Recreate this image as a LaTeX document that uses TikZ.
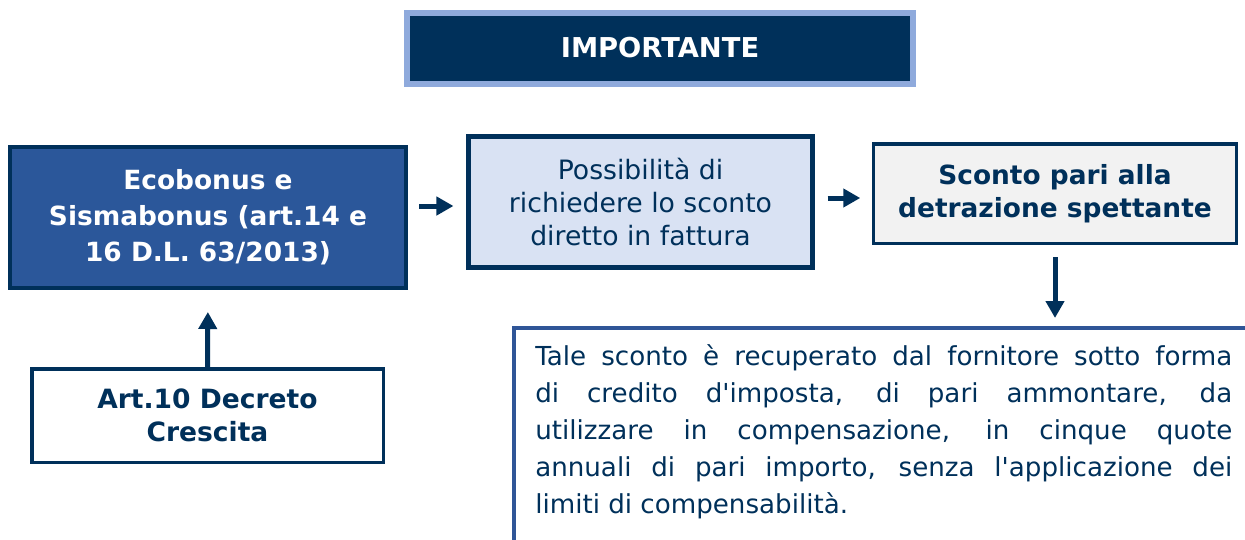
\documentclass[tikz,border=0pt]{standalone}
\usepackage{fontspec}
\setmainfont{DejaVu Sans}[Ligatures=TeXOff]
\usepackage{tikz}
\usetikzlibrary{shapes,arrows.meta}

\definecolor{blunotte}{RGB}{0,48,90}
\definecolor{bluscuro}{RGB}{43,87,154}
\definecolor{bordoblu}{RGB}{47,85,151}
\definecolor{azzurro}{RGB}{143,170,220}
\definecolor{celeste}{RGB}{217,226,243}
\definecolor{grigino}{RGB}{242,242,242}

\begin{document}
\begin{tikzpicture}[x=0.75pt,y=-0.75pt]
	\clip (0,0) rectangle (1245,539);

	\tikzstyle{titolo}=[rectangle,draw=azzurro,line width=4.5pt,fill=blunotte,
	text=white,font=\bfseries\fontsize{20.5}{24}\selectfont,
	minimum width=379.5pt,minimum height=53.25pt]
	\tikzstyle{bloccoblu}=[rectangle,draw=blunotte,line width=3pt,fill=bluscuro,
	text=white,font=\bfseries\fontsize{19.8}{27}\selectfont,align=center,
	minimum width=297pt,minimum height=105.75pt]
	\tikzstyle{bloccochiaro}=[rectangle,draw=blunotte,line width=3.75pt,fill=celeste,
	text=blunotte,font=\fontsize{20}{24.75}\selectfont,align=center,
	minimum width=258pt,minimum height=98.25pt]
	\tikzstyle{bloccogrigio}=[rectangle,draw=blunotte,line width=2.6pt,fill=grigino,
	text=blunotte,font=\bfseries\fontsize{19.8}{24.75}\selectfont,align=center,
	minimum width=271.9pt,minimum height=74.6pt]
	\tikzstyle{bloccobianco}=[rectangle,draw=blunotte,line width=2.6pt,fill=white,
	text=blunotte,font=\bfseries\fontsize{19.9}{24.75}\selectfont,align=center,
	minimum width=263.6pt,minimum height=70.1pt]
	\tikzstyle{cornice}=[rectangle,draw=bordoblu,line width=3pt,
	minimum width=600pt,minimum height=225pt]
	\tikzstyle{testo}=[text=blunotte,font=\fontsize{19.6}{27.8}\selectfont,
	text width=522.75pt,align=justify,inner sep=0pt]

	\node[titolo] (imp) at (660,48) {IMPORTANTE};
	\node[bloccoblu] (eco) at (208,217.5) {Ecobonus e\\Sismabonus (art.14 e\\16 D.L. 63/2013)};
	\node[bloccochiaro] (poss) at (640.5,202) {Possibilità di\\richiedere lo sconto\\diretto in fattura};
	\node[bloccogrigio] (sconto) at (1055,193.5) {Sconto pari alla\\detrazione spettante};
	\node[bloccobianco] (art) at (207.5,415.5) {Art.10 Decreto\\Crescita};
	\node[cornice,anchor=north west] (box) at (512,326) {};
	\node[testo,anchor=north west] (tale) at (535,344) {\hyphenpenalty=10000
	Tale sconto è recuperato dal fornitore sotto forma\linebreak
	di credito d'imposta, di pari ammontare, da\linebreak
	utilizzare in compensazione, in cinque quote\linebreak
	annuali di pari importo, senza l'applicazione dei\linebreak
	limiti di compensabilità.};

	\tikzstyle{freccia}=[-{Triangle[width=13.5pt,length=12.75pt]},line width=3.75pt,draw=blunotte]

	\draw[freccia,shorten <=8.25pt,shorten >=9.4pt] ([yshift=-3pt]eco.east |- poss.west) -- ([yshift=-3pt]poss.west);
	\draw[freccia,shorten <=9.4pt,shorten >=8.8pt] ([yshift=3pt]poss.east) -- ([yshift=3pt]sconto.west |- poss.east);
	\draw[freccia,shorten <=9.2pt,shorten >=6pt] (sconto.south) -- (sconto.south |- box.north);
	\draw[freccia,shorten >=16.5pt] (art.north) -- (eco.south);
\end{tikzpicture}
\end{document}
